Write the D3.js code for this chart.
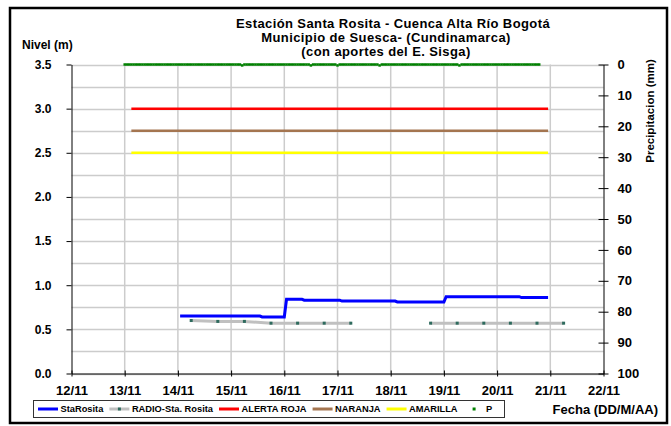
<!DOCTYPE html>
<html>
<head>
<meta charset="utf-8">
<script src="https://cdn.jsdelivr.net/npm/d3@7"></script>
<style>
  body { margin: 0; background: #fff; }
  text { font-family: "Liberation Sans", Arial, sans-serif; font-weight: bold; fill: #000; }
</style>
</head>
<body>
<svg id="chart" width="671" height="426"></svg>
<script>
// Nivel StaRosita (m) - step series
var nivelTimes = ["14/11 01:00", "15/11 13:00", "15/11 14:00", "16/11 00:00", "16/11 01:00",
    "16/11 08:00", "16/11 09:00", "17/11 01:00", "17/11 02:00", "18/11 02:00", "18/11 03:00",
    "19/11 00:00", "19/11 01:00", "20/11 10:00", "20/11 11:00", "20/11 23:00"];
var nivelValues = [0.65, 0.65, 0.64, 0.64, 0.84, 0.84, 0.83, 0.83, 0.82, 0.82, 0.81,
    0.81, 0.87, 0.87, 0.86, 0.86];

// RADIO-Sta. Rosita (m), null = no reading
var radioTimes = ["14/11 06:00", "14/11 18:00", "15/11 06:00", "15/11 18:00", "16/11 06:00",
    "16/11 18:00", "17/11 06:00", "17/11 18:00", "18/11 06:00", "18/11 18:00", "19/11 06:00",
    "19/11 18:00", "20/11 06:00", "20/11 18:00", "21/11 06:00"];
var radioValues = [0.60, 0.59, 0.59, 0.57, 0.57, 0.57, 0.57, null, null, 0.57, 0.57,
    0.57, 0.57, 0.57, 0.57];

// alert levels (m)
var alertNames = ["ALERTA ROJA", "NARANJA", "AMARILLA"];
var alertValues = [3.0, 2.75, 2.5];
var alertColors = ["#ff0000", "#a47550", "#ffff00"];
var alertRange = ["13/11 03:00", "20/11 23:00"];

// hourly precipitation (mm) from 13/11 00:00, one row per day
var precipStart = "13/11 00:00";
var precipHourly = [
    0,0,0,0,0,0,0,0,0,0,0,0,0,0,0,0,0,0,0,0,0,0,0,0,
    0,0,0,0,0,0,0,0,0,0,0,0,0,0,0,0,0,0,0,0,0,0,0,0,
    0,0,0,0,0,0.3,0,0,0,0,0,0,0,0,0,0,0,0,0,0,0,0,0,0,
    0,0,0,0,0,0,0,0,0,0,0,0,0.3,0,0,0,0,0,0,0,0,0,0,0,
    0.3,0,0,0,0,0,0,0,0,0,0,0,0,0,0,0,0,0,0,0.3,0,0,0,0,
    0,0,0,0,0,0,0,0,0,0,0,0,0,0,0,0,0,0,0,0,0,0,0,0,
    0,0,0,0,0,0,0,0.3,0,0,0,0,0,0,0,0,0,0,0,0,0,0,0,0,
    0,0,0,0,0,0,0,0,0,0,0,0,0,0,0,0,0,0,0,0
];

var xTicks = ["12/11", "13/11", "14/11", "15/11", "16/11", "17/11", "18/11", "19/11", "20/11", "21/11", "22/11"];
var leftTicks = [0, 0.5, 1.0, 1.5, 2.0, 2.5, 3.0, 3.5];
var rightTicks = [0, 10, 20, 30, 40, 50, 60, 70, 80, 90, 100];
var titleLines = ["Estación Santa Rosita - Cuenca Alta Río Bogotá",
    "Municipio de Suesca- (Cundinamarca)", "(con aportes del  E. Sisga)"];

var parse = d3.timeParse("%d/%m %H:%M");
var parseDay = d3.timeParse("%d/%m");

var svg = d3.select("#chart");
var plotLeft = 71.5, plotRight = 603.5, plotTop = 64.5, plotBottom = 373.5;

var x = d3.scaleTime()
    .domain([parseDay(xTicks[0]), parseDay(xTicks[xTicks.length - 1])])
    .range([plotLeft, plotRight]);
var y = d3.scaleLinear().domain([0, 3.5]).range([plotBottom, plotTop]);
var yP = d3.scaleLinear().domain([0, 100]).range([plotTop, plotBottom]);

// outer frame
svg.append("rect")
    .attr("x", 10).attr("y", 8).attr("width", 657).attr("height", 415)
    .attr("fill", "none").attr("stroke", "#000").attr("stroke-width", 2.5);

// gridlines
svg.append("g").selectAll("line")
    .data(d3.range(0, 3.51, 0.25))
    .enter().append("line")
    .attr("x1", plotLeft).attr("x2", plotRight)
    .attr("y1", function(d) { return Math.round(y(d)) + 0.5; })
    .attr("y2", function(d) { return Math.round(y(d)) + 0.5; })
    .attr("stroke", "#cccccc").attr("stroke-width", 1.5);
svg.append("g").selectAll("line")
    .data(xTicks.slice(1, -1))
    .enter().append("line")
    .attr("x1", function(d) { return x(parseDay(d)); })
    .attr("x2", function(d) { return x(parseDay(d)); })
    .attr("y1", plotTop).attr("y2", plotBottom)
    .attr("stroke", "#cccccc").attr("stroke-width", 1.5);

// axes
var xAxis = svg.append("g")
    .attr("transform", "translate(0," + plotBottom + ")")
    .call(d3.axisBottom(x)
        .tickValues(xTicks.map(function(d) { return parseDay(d); }))
        .tickFormat(d3.timeFormat("%d/%m"))
        .tickSizeInner(3).tickSizeOuter(0).tickPadding(9));
xAxis.selectAll(".tick line").attr("y1", -3);
xAxis.selectAll("text").style("font-size", "13px");

var yAxis = svg.append("g")
    .attr("transform", "translate(" + plotLeft + ",0)")
    .call(d3.axisLeft(y).tickValues(leftTicks).tickFormat(d3.format(".1f"))
        .tickSizeInner(5).tickSizeOuter(0).tickPadding(15));
yAxis.selectAll("text").style("font-size", "12px");

var rAxis = svg.append("g")
    .attr("transform", "translate(" + plotRight + ",0)")
    .call(d3.axisRight(yP).tickValues(rightTicks)
        .tickSizeInner(5).tickSizeOuter(0).tickPadding(9));
rAxis.selectAll(".tick line").attr("x1", -5);
rAxis.selectAll("text").style("font-size", "13px");

svg.selectAll(".domain").attr("stroke", "#000");
svg.selectAll(".tick line").attr("stroke", "#000");

// alert lines
svg.append("g").selectAll("line")
    .data(alertValues)
    .enter().append("line")
    .attr("x1", x(parse(alertRange[0]))).attr("x2", x(parse(alertRange[1])))
    .attr("y1", function(d) { return y(d); })
    .attr("y2", function(d) { return y(d); })
    .attr("stroke", function(d, i) { return alertColors[i]; })
    .attr("stroke-width", 2.5);

// precipitation markers
var t0 = parse(precipStart);
var precip = precipHourly.map(function(v, i) {
    return { t: d3.timeHour.offset(t0, i), v: v };
});
svg.append("g").selectAll("rect")
    .data(precip)
    .enter().append("rect")
    .attr("x", function(d) { return x(d.t) - 1.25; })
    .attr("y", function(d) { return yP(d.v) - 1.25; })
    .attr("width", 2.5).attr("height", 2.5)
    .attr("fill", "#008000");

// radio series
var radio = radioTimes.map(function(t, i) { return { t: parse(t), v: radioValues[i] }; });
svg.append("path")
    .datum(radio)
    .attr("d", d3.line()
        .defined(function(d) { return d.v !== null; })
        .x(function(d) { return x(d.t); })
        .y(function(d) { return y(d.v); }))
    .attr("fill", "none").attr("stroke", "#c0c0c0").attr("stroke-width", 3);
svg.append("g").selectAll("rect")
    .data(radio.filter(function(d) { return d.v !== null; }))
    .enter().append("rect")
    .attr("x", function(d) { return x(d.t) - 1.5; })
    .attr("y", function(d) { return y(d.v) - 1.5; })
    .attr("width", 3).attr("height", 3)
    .attr("fill", "#2e6b5e");

// StaRosita series
var nivel = nivelTimes.map(function(t, i) { return { t: parse(t), v: nivelValues[i] }; });
svg.append("path")
    .datum(nivel)
    .attr("d", d3.line()
        .x(function(d) { return x(d.t); })
        .y(function(d) { return y(d.v); }))
    .attr("fill", "none").attr("stroke", "#0000ff").attr("stroke-width", 3);

// titles
svg.append("g").selectAll("text")
    .data(titleLines)
    .enter().append("text")
    .attr("x", function(d, i) { return i === 0 ? 393 : 386; })
    .attr("y", function(d, i) { return 28 + i * 14; })
    .attr("text-anchor", "middle")
    .style("font-size", "13px")
    .style("letter-spacing", "0.4px")
    .text(function(d) { return d; });

svg.append("text").attr("x", 22).attr("y", 49)
    .style("font-size", "12px").text("Nivel (m)");

svg.append("text")
    .attr("transform", "translate(654,111) rotate(-90)")
    .attr("text-anchor", "middle")
    .style("font-size", "11.5px")
    .text("Precipitacion (mm)");

svg.append("text").attr("x", 658).attr("y", 414)
    .attr("text-anchor", "end")
    .style("font-size", "13px").text("Fecha (DD/M/AA)");

// legend
var legendItems = [
    { name: "StaRosita", color: "#0000ff", type: "line" },
    { name: "RADIO-Sta. Rosita", color: "#c0c0c0", type: "radio" },
    { name: alertNames[0], color: alertColors[0], type: "line" },
    { name: alertNames[1], color: alertColors[1], type: "line" },
    { name: alertNames[2], color: alertColors[2], type: "line" },
    { name: "P", color: "#008000", type: "dot" }
];
svg.append("rect")
    .attr("x", 33.5).attr("y", 400.5).attr("width", 471).attr("height", 17)
    .attr("fill", "#fff").attr("stroke", "#333").attr("stroke-width", 1);

var lx = 38, ly = 409;
legendItems.forEach(function(item) {
    if (item.type === "dot") {
        svg.append("rect").attr("x", lx + 9).attr("y", ly - 1.5)
            .attr("width", 3).attr("height", 3).attr("fill", item.color);
    } else {
        svg.append("line").attr("x1", lx).attr("x2", lx + 20)
            .attr("y1", ly).attr("y2", ly)
            .attr("stroke", item.color).attr("stroke-width", 3);
        if (item.type === "radio") {
            svg.append("rect").attr("x", lx + 8.5).attr("y", ly - 1.5)
                .attr("width", 3).attr("height", 3).attr("fill", "#2e6b5e");
        }
    }
    var t = svg.append("text").attr("x", lx + 22.5).attr("y", ly + 3.3)
        .style("font-size", "9.3px").text(item.name);
    lx = lx + 22.5 + t.node().getComputedTextLength() + 6;
});
</script>
</body>
</html>
